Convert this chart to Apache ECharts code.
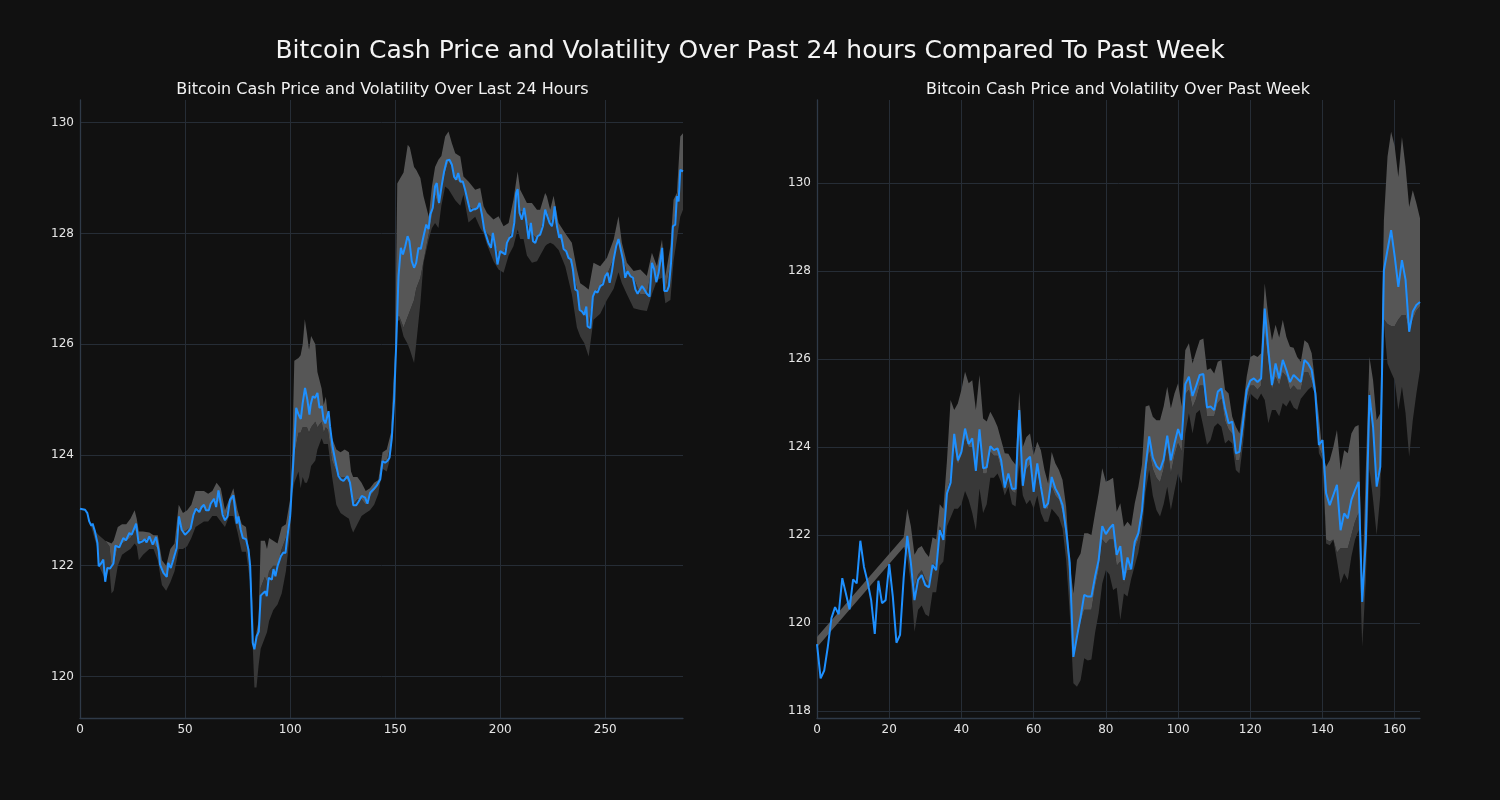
<!DOCTYPE html>
<html><head><meta charset="utf-8">
<script src="https://cdn.jsdelivr.net/npm/echarts@6/dist/echarts.min.js"></script>
<style>html,body{margin:0;padding:0;background:#111111;}#c{width:1500px;height:800px;}</style>
</head><body><div id="c"></div>
<script>
const mainTitle = 'Bitcoin Cash Price and Volatility Over Past 24 hours Compared To Past Week';
const leftTitle = 'Bitcoin Cash Price and Volatility Over Last 24 Hours';
const rightTitle = 'Bitcoin Cash Price and Volatility Over Past Week';

// ---- Left: last 24 hours (5-minute steps, index 0..287) ----
const leftPriceX = [0,2.4,3.5,4.4,5.4,6,7.1,8.3,8.9,10,11.1,12,13,14.3,15.9,16.8,18.7,20.6,21.9,23.5,24.6,26.7,27.9,29.8,30.8,31.7,33,34.6,36.2,37.5,38.1,39.7,41.3,42,43.2,44.4,46,47.1,48.4,50,51.6,52.7,54,55.2,56.8,57.9,59,60,61.3,62.2,63.8,64.8,65.9,66.7,67.9,69,70.2,71.4,73,74.6,75.4,76.5,77.5,79,80.2,81,82.2,83,84.1,85.1,86,87.3,88.3,88.9,89.8,91.3,92.1,93,94,95.6,96.8,97.8,98.7,100,101.6,102.9,104,105.1,106,107.1,108.2,109.2,109.8,110.8,111.9,113,114,115.1,115.9,116.8,118.3,119,120.3,121.4,123,124.1,125.4,127.3,128.5,130.1,131.4,132.5,134.1,135.7,136.8,138.1,139.7,141.3,142.9,144,145.2,146.3,147.3,148.4,149.5,150.5,151.6,152.7,153.7,154.8,155.9,156.8,157.9,159,160,161.1,162.2,163.5,164.8,165.9,166.7,167.9,169,169.8,170.9,172.1,173.3,174.6,175.9,177,178.1,179,180,181,182.2,183.3,184.4,185.7,187,188.1,189.2,190.2,191.3,192.4,193.3,194.4,195.6,196.5,197.6,198.7,200,201.3,202.4,203.2,204.4,205.6,206.7,207.6,208.3,209.2,210.3,211.4,212.4,213.5,214.6,215.6,216.7,217.8,219,220.3,221.4,222.2,223.5,224.6,225.1,225.9,227,228.1,228.9,230.2,231.4,232.5,233.7,234.6,235.7,236.8,237.8,238.9,240,241,241.6,242.9,244.1,245.2,246.3,247.6,248.9,250,251.1,252.1,253.2,254,255.2,256.3,257.1,258.4,259.5,260.6,261.9,263.2,264.3,265.4,266.3,267.5,268.6,269.8,271.1,272.2,273.3,274.3,275.4,276.2,277.1,278.1,279.4,280.3,281.3,282.2,283.3,284.1,284.9,285.7,287];
const leftPriceY = [123.03,123.01,122.95,122.80,122.72,122.76,122.62,122.41,121.99,122.04,122.11,121.71,121.96,121.95,122.04,122.36,122.33,122.50,122.46,122.59,122.56,122.76,122.41,122.44,122.48,122.42,122.53,122.38,122.52,122.26,122.02,121.87,121.80,122.05,121.96,122.11,122.32,122.89,122.65,122.56,122.62,122.68,122.92,123.03,122.97,123.06,123.10,123.00,123.00,123.12,123.21,123.06,123.36,123.19,122.92,122.82,122.89,123.19,123.27,122.76,122.89,122.65,122.50,122.48,122.29,121.99,120.61,120.49,120.73,120.81,121.46,121.51,121.54,121.45,121.78,121.75,121.94,121.81,121.99,122.17,122.24,122.23,122.53,122.88,123.92,124.85,124.73,124.65,124.94,125.21,125.00,124.73,124.91,125.06,125.03,125.12,124.85,124.88,124.64,124.57,124.79,124.52,124.13,123.92,123.62,123.56,123.53,123.62,123.50,123.09,123.09,123.15,123.26,123.23,123.12,123.32,123.38,123.45,123.56,123.89,123.86,123.89,123.95,124.30,125.00,126.00,127.23,127.74,127.62,127.77,127.95,127.86,127.50,127.38,127.47,127.74,127.72,127.95,128.16,128.08,128.34,128.46,128.85,128.91,128.55,128.85,129.12,129.32,129.33,129.24,129.02,128.97,129.09,128.94,128.94,128.79,128.61,128.40,128.43,128.44,128.46,128.55,128.34,128.07,128.04,127.83,127.74,128.01,127.77,127.44,127.68,127.65,127.62,127.83,127.92,127.95,128.19,128.73,128.80,128.37,128.25,128.46,128.22,127.90,128.19,127.86,127.83,127.95,127.98,128.13,128.43,128.43,128.19,128.13,128.22,128.49,128.13,127.92,127.98,127.72,127.68,127.56,127.53,127.35,126.99,126.96,126.62,126.59,126.53,126.68,126.32,126.29,126.86,126.96,126.93,127.05,127.08,127.23,127.29,127.11,127.32,127.53,127.77,127.90,127.92,127.53,127.20,127.32,127.23,127.20,126.99,126.91,126.90,127.05,126.99,126.91,126.86,127.47,127.35,127.12,127.29,127.32,127.74,126.96,126.96,127.05,127.47,128.13,128.16,128.67,128.58,129.15,129.12];

const leftBandX = [5,8,9,12,14,15,16,18,20,22,24,26,27,28,30,33,35,37,39,41,43,45,47,49,51,53,55,57,59,61,63,65,67,69,71,73,75,77,79,81,83,84,85,86,88,89,90,92,94,96,98,100,101,102,104,105,106,107,108,109,110,112,113,115,116,117,118,120,122,124,126,128,129,130,132,134,136,138,140,142,144,146,148,150,151,152,154,156,157,159,160,162,163.5,166,167.5,169,170.6,172,173.8,175.4,177,178.6,181,182.5,184.9,188.1,190.5,192.1,193.7,196.8,199.2,201.6,204,206.3,208.3,209.5,211.1,212.7,215.1,217.5,219,221.4,222.2,223.8,225.4,227.8,231,234.1,236.5,238.1,240,242.1,244.4,247.6,250.8,254,256.3,257.9,260.3,263.5,266.7,269.8,272.2,274.6,277,278.6,281,282.5,284.1,285.7,287];
const leftBandUpper = [122.78,122.59,122.55,122.45,122.42,122.4,122.45,122.7,122.75,122.75,122.85,123.0,122.85,122.62,122.62,122.6,122.55,122.55,122.1,122.0,122.3,122.4,123.1,122.95,123.0,123.1,123.35,123.35,123.35,123.3,123.35,123.5,123.4,123.0,123.2,123.4,123.0,122.75,122.7,122.1,120.6,120.8,121.0,122.45,122.45,122.3,122.5,122.45,122.4,122.7,122.75,123.2,124.0,125.7,125.75,125.8,126.0,126.45,126.2,125.9,126.15,126.0,125.5,125.2,124.9,125.05,124.7,124.3,124.1,124.05,124.1,124.05,123.7,123.6,123.6,123.5,123.35,123.4,123.5,123.55,124.05,124.1,124.4,125.9,128.9,128.97,129.1,129.6,129.55,129.2,129.15,129.0,128.67,128.3,128.85,129.2,129.33,129.4,129.75,129.84,129.63,129.45,129.39,129.03,128.94,128.79,128.82,128.49,128.37,128.25,128.31,128.13,128.19,128.61,129.12,128.79,128.67,128.55,128.55,128.43,128.43,128.73,128.67,128.43,128.68,128.19,128.0,127.83,127.35,127.1,127.05,126.99,127.47,127.41,127.56,127.89,128.31,127.83,127.47,127.32,127.35,127.23,127.65,127.41,127.89,127.23,127.77,128.61,128.73,129.75,129.81];
const leftBandMid = [122.78,122.59,122.55,122.45,122.35,122.0,122.0,122.35,122.4,122.45,122.5,122.65,122.6,122.45,122.45,122.5,122.4,122.3,121.9,121.8,122.0,122.2,122.9,122.6,122.65,122.7,123.05,123.0,123.05,123.0,123.15,123.2,123.1,122.85,123.1,123.2,122.8,122.5,122.45,121.9,120.6,120.8,120.7,121.6,121.8,121.7,121.9,122.0,122.0,122.3,122.5,122.9,123.6,124.0,124.4,124.4,124.5,124.5,124.5,124.4,124.5,124.6,124.5,124.6,124.4,124.5,124.45,123.9,123.7,123.6,123.6,123.5,123.3,123.1,123.2,123.2,123.1,123.25,123.35,123.45,123.9,123.9,124.2,125.7,126.5,126.5,126.3,126.5,126.6,126.8,127.0,127.2,127.5,128.0,128.3,128.7,128.5,128.8,129.1,129.3,129.2,129.0,128.9,128.9,128.5,128.4,128.5,128.1,128.0,127.9,127.6,127.65,127.9,128.1,128.8,128.4,128.4,128.2,128.0,127.9,128.0,128.4,128.4,128.2,128.3,127.95,127.7,127.4,127.0,126.6,126.55,126.35,126.9,127.05,127.25,127.55,127.9,127.6,127.3,127.2,126.9,126.9,127.4,127.2,127.5,126.95,127.45,128.1,128.6,129.1,129.1];
const leftBandLower = [122.75,122.35,122.0,121.75,121.95,121.5,121.55,122.0,122.2,122.25,122.3,122.4,122.35,122.1,122.2,122.3,122.3,122.1,121.65,121.55,121.7,121.9,122.3,122.3,122.35,122.5,122.7,122.75,122.8,122.8,122.9,122.9,122.8,122.7,122.9,122.9,122.6,122.25,122.25,121.7,119.8,119.8,120.2,120.5,120.7,120.8,121.0,121.2,121.3,121.5,121.9,122.6,123.3,123.5,123.7,123.4,123.6,123.5,123.5,123.6,123.8,123.9,124.1,124.3,124.2,124.2,124.2,123.6,123.1,122.95,122.9,122.85,122.7,122.6,122.75,122.9,122.95,123.0,123.1,123.3,123.75,123.7,124.0,125.5,126.4,126.44,126.14,126.0,125.9,125.66,126.0,126.74,127.47,127.9,128.1,128.19,128.1,128.5,128.85,128.8,128.7,128.6,128.5,128.7,128.2,128.3,128.1,128.0,127.8,127.5,127.35,127.29,127.6,127.77,128.07,127.9,127.9,127.6,127.47,127.5,127.6,127.77,127.8,127.83,127.8,127.7,127.4,126.9,126.3,126.14,126.02,125.78,126.44,126.55,126.8,127.0,127.3,127.1,126.9,126.65,126.62,126.6,126.9,127.15,127.2,126.74,126.8,127.5,127.9,128.3,128.43];

// ---- Right: past week (hourly, index 0..167) ----
const rightPrice = [119.52,118.74,118.92,119.46,120.11,120.36,120.2,121.02,120.67,120.31,120.99,120.9,121.87,121.28,120.94,120.52,119.75,120.96,120.45,120.52,121.34,120.6,119.55,119.73,121.02,121.98,121.36,120.52,120.98,121.09,120.86,120.81,121.32,121.2,122.11,121.89,122.95,123.19,124.3,123.7,123.89,124.42,124.07,124.2,123.46,124.4,123.52,123.54,124.02,123.93,123.97,123.7,123.08,123.4,123.05,123.05,124.84,123.12,123.7,123.78,122.98,123.63,123.1,122.62,122.72,123.32,123.06,122.91,122.68,122.11,121.36,119.23,119.69,120.14,120.64,120.6,120.6,121.05,121.43,122.2,122.02,122.15,122.24,121.55,121.75,120.98,121.49,121.22,121.85,122.04,122.55,123.55,124.24,123.76,123.57,123.48,123.72,124.26,123.7,124.08,124.41,124.16,125.43,125.6,125.16,125.39,125.64,125.66,124.9,124.92,124.84,125.26,125.33,124.88,124.54,124.58,123.86,123.89,124.58,125.3,125.51,125.56,125.48,125.56,127.15,126.2,125.41,125.9,125.56,125.98,125.75,125.48,125.64,125.56,125.48,125.98,125.9,125.75,125.22,124.05,124.16,122.95,122.68,122.91,123.14,122.11,122.49,122.38,122.8,123.02,123.21,120.48,121.89,125.18,124.46,123.1,123.55,128.02,128.48,128.93,128.33,127.64,128.25,127.8,126.62,127.08,127.23,127.3];

const rightBandX = [0,24,25,26,27,28,29,30,31,32,33,34,35,36,37,38,39,40,41,42,43,44,45,46,47,48,49,50,51,52,53,54,55,56,57,58,59,60,61,62,63,64,65,66,67,68,69,70,71,72,73,74,75,76,77,78,79,80,81,82,83,84,85,86,87,88,89,90,91,92,93,94,95,96,97,98,99,100,101,102,103,104,105,106,107,108,109,110,111,112,113,114,115,116,117,118,119,120,121,122,123,124,125,126,127,128,129,130,131,132,133,134,135,136,137,138,139,140,141,142,143,144,145,146,147,148,149,150,151,152,153,154,155,156,157,158,159,160,161,162,163,164,165,166,167];
const rightBandUpper = [119.68,121.95,122.6,122.2,121.55,121.7,121.75,121.6,121.5,121.95,121.9,122.7,122.6,123.7,125.07,124.84,124.99,125.3,125.71,125.45,125.52,124.84,125.64,124.65,124.58,124.8,124.65,124.46,124.16,123.86,123.85,123.7,123.6,125.26,124.0,124.23,124.31,123.82,124.12,123.93,123.48,123.17,123.89,123.63,123.48,123.25,122.64,121.36,120.67,121.43,121.58,122.04,122.04,122.0,122.49,122.95,123.52,123.21,123.25,123.3,122.53,122.72,122.19,122.3,122.2,122.72,123.1,123.6,124.92,124.95,124.69,124.61,124.61,124.92,125.37,124.88,125.22,125.45,124.92,126.2,126.36,125.9,126.17,126.43,126.47,125.75,125.79,125.67,125.94,125.98,125.3,125.22,124.69,124.46,124.31,124.92,125.6,126.05,126.09,126.05,126.13,127.72,126.96,126.43,126.78,126.49,126.89,126.5,126.28,126.26,126.05,125.94,126.43,126.36,126.13,125.45,124.69,123.86,123.55,123.7,124.0,124.39,123.48,123.93,123.86,124.31,124.46,124.5,120.7,123.5,126.05,125.52,124.61,124.77,129.16,130.6,131.17,130.83,130.14,131.05,130.37,129.46,129.84,129.54,129.2];
const rightBandMid = [119.45,121.72,121.7,121.4,120.8,121.1,121.2,121.0,120.9,121.35,121.3,122.2,122.0,123.0,123.3,124.0,123.6,123.8,124.2,124.0,124.0,123.4,124.2,123.4,123.4,123.9,123.8,123.8,123.5,123.0,123.3,123.0,122.95,124.3,123.3,123.5,123.6,123.0,123.4,123.0,122.6,122.6,123.1,122.9,122.8,122.5,121.9,120.8,119.3,119.7,120.0,120.3,120.3,120.3,120.8,121.2,121.9,121.8,121.9,121.9,121.3,121.4,120.9,121.2,121.2,121.7,121.9,122.4,123.3,123.9,123.5,123.3,123.2,123.5,124.0,123.4,123.8,124.1,123.9,125.2,125.3,124.9,125.1,125.4,125.4,124.7,124.7,124.7,125.0,125.1,124.6,124.4,124.3,123.7,123.7,124.3,125.1,125.4,125.4,125.3,125.4,126.6,125.9,125.3,125.6,125.4,125.7,125.6,125.3,125.4,125.3,125.3,125.7,125.7,125.5,125.25,124.0,123.8,121.9,121.85,121.9,121.6,121.7,121.7,121.7,122.0,122.3,122.5,120.5,121.9,125.3,124.5,123.3,123.5,126.9,126.8,126.75,126.75,126.9,127.0,127.0,126.6,126.9,127.1,127.2];
const rightBandLower = [119.45,121.72,121.5,120.9,119.8,120.3,120.4,120.2,120.15,120.7,120.7,121.3,121.4,122.2,122.4,122.6,122.6,122.7,123.0,122.8,122.5,122.1,123.06,122.5,122.7,123.3,123.3,123.4,123.2,122.9,123.1,122.7,122.65,123.6,122.9,122.7,122.8,122.6,122.9,122.5,122.3,122.3,122.6,122.5,122.4,122.15,121.43,120.22,118.63,118.55,118.7,119.2,119.15,119.17,119.77,120.22,120.9,121.2,121.1,120.75,120.8,120.07,120.67,120.6,121.0,121.3,121.6,122.1,122.98,123.48,122.9,122.57,122.42,122.7,123.1,122.57,123.0,123.4,123.17,124.31,124.77,124.31,124.77,124.84,124.46,124.05,124.16,124.46,124.54,124.46,124.08,124.16,124.08,123.48,123.4,124.08,124.92,125.22,125.14,125.07,125.22,125.07,124.54,124.84,124.84,124.7,125.0,124.92,125.07,124.9,124.84,125.1,125.2,125.3,125.37,125.22,123.86,123.7,121.81,121.77,121.89,121.42,120.9,121.13,120.98,121.51,121.89,122.11,119.46,120.98,123.5,122.8,122.0,122.9,126.8,125.9,125.7,125.52,124.84,125.37,124.77,123.78,124.61,125.22,125.75];

// ---- build ----
const FONT = '"DejaVu Sans", Verdana, sans-serif';
const BG = '#111111', GRID = '#262d36', SPINE = '#2f3a48', TXT = '#e6e6e6';
const LINE = '#1e90ff', LIGHT = '#565656', DARK = '#383838';

function pairs(xs, ys) { return xs.map((x, i) => [x, ys[i]]); }
// one custom item per chart draws two polygons (light: upper→mid, dark: mid→lower)
function bandSeries(idx, xs, up, mid, lo) {
  return {
    type: 'custom', xAxisIndex: idx, yAxisIndex: idx, silent: true, z: 1,
    data: [[xs[0], up[0]]],
    renderItem: function (params, api) {
      const poly = (top, bot) => {
        const pts = [];
        for (let i = 0; i < xs.length; i++) pts.push(api.coord([xs[i], top[i]]));
        for (let i = xs.length - 1; i >= 0; i--) pts.push(api.coord([xs[i], bot[i]]));
        return pts;
      };
      return { type: 'group', children: [
        { type: 'polygon', shape: { points: poly(mid, lo) }, style: { fill: DARK } },
        { type: 'polygon', shape: { points: poly(up, mid) }, style: { fill: LIGHT } }
      ] };
    }
  };
}
function xAxis(idx, max, interval) {
  return { type: 'value', gridIndex: idx, min: 0, max: max, interval: interval,
    axisLine: { show: true, onZero: false, lineStyle: { color: SPINE, width: 1.3 } },
    axisTick: { show: false },
    axisLabel: { color: TXT, fontSize: 12, fontFamily: FONT, margin: 6, showMaxLabel: false },
    splitLine: { show: true, showMaxLine: false, lineStyle: { color: GRID, width: 1 } } };
}
function yAxis(idx, min, max, split) {
  return { type: 'value', gridIndex: idx, min: min, max: max, splitNumber: split, scale: true,
    axisLine: { show: true, onZero: false, lineStyle: { color: SPINE, width: 1.3 } },
    axisTick: { show: false },
    axisLabel: { color: TXT, fontSize: 12, fontFamily: FONT, margin: 6, showMinLabel: false, showMaxLabel: false },
    splitLine: { show: true, showMinLine: false, showMaxLine: false, lineStyle: { color: GRID, width: 1 } } };
}

const chart = echarts.init(document.getElementById('c'), null, { renderer: 'canvas' });
chart.setOption({
  backgroundColor: BG,
  animation: false,
  title: [
    { text: mainTitle, left: 745, top: 34, textAlign: 'center',
      textStyle: { color: '#f4f4f4', fontSize: 25, fontWeight: 'normal', fontFamily: FONT } },
    { text: leftTitle, left: 377.5, top: 77, textAlign: 'center',
      textStyle: { color: '#f2f2f2', fontSize: 16, fontWeight: 'normal', fontFamily: FONT } },
    { text: rightTitle, left: 1113, top: 77, textAlign: 'center',
      textStyle: { color: '#f2f2f2', fontSize: 16, fontWeight: 'normal', fontFamily: FONT } }
  ],
  grid: [
    { left: 80, top: 100, width: 603, height: 618 },
    { left: 817, top: 100, width: 603, height: 618 }
  ],
  xAxis: [xAxis(0, 287, 50), xAxis(1, 167, 20)],
  yAxis: [yAxis(0, 119.25, 130.41, 5), yAxis(1, 117.84, 131.89, 6)],
  series: [
    bandSeries(0, leftBandX, leftBandUpper, leftBandMid, leftBandLower),
    bandSeries(1, rightBandX, rightBandUpper, rightBandMid, rightBandLower),
    { type: 'line', xAxisIndex: 0, yAxisIndex: 0, symbol: 'none', z: 5,
      data: pairs(leftPriceX, leftPriceY), lineStyle: { color: LINE, width: 2 } },
    { type: 'line', xAxisIndex: 1, yAxisIndex: 1, symbol: 'none', z: 5,
      data: rightPrice.map((v, i) => [i, v]), lineStyle: { color: LINE, width: 2 } }
  ]
});
</script></body></html>
